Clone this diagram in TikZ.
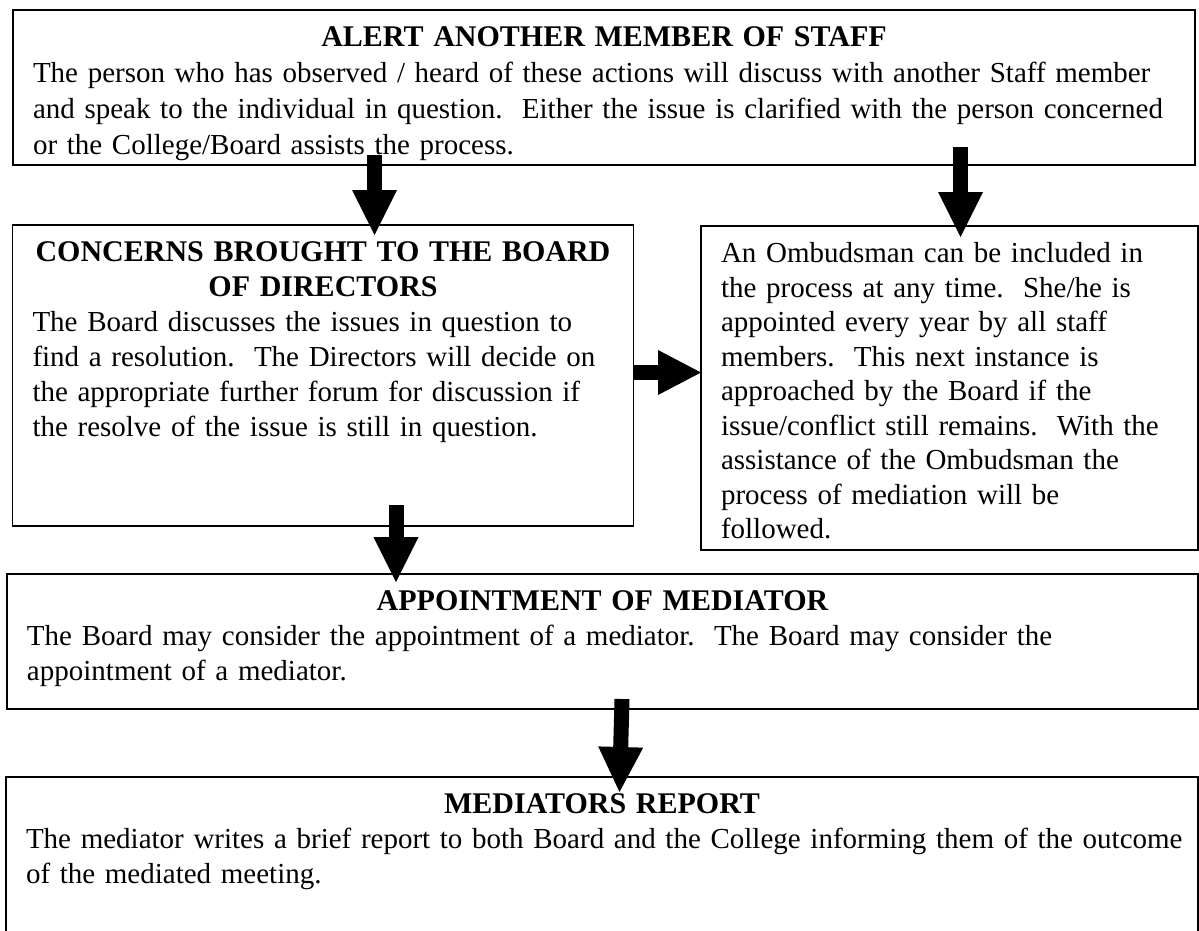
\documentclass[tikz,border=0pt]{standalone}
\usepackage{fontspec}
\setmainfont{Liberation Serif}
\usetikzlibrary{arrows.meta}
\frenchspacing
\hyphenpenalty=10000
\newcommand{\panelhead}[1]{{\centering\fontsize{30}{35}\selectfont\bfseries #1\par}}

\begin{document}
\begin{tikzpicture}[x=1pt,y=1pt,
  panel/.style={draw,line width=1.8pt,anchor=north west,outer sep=0pt,
    inner xsep=20pt,inner ysep=0pt,align=left,text height=36.5pt,
    font=\fontsize{29}{35}\selectfont},
  flow/.style={line width=15pt,-{Triangle[width=45pt,length=45pt,line width=0pt]}}]
\useasboundingbox (0,0) rectangle (1199,-930);
% boxes
\node[panel,text width=1142pt,text depth=118.5pt,font=\fontsize{29}{36}\selectfont] (alert) at (13,-10)
  {\panelhead{ALERT ANOTHER MEMBER OF STAFF}%
   The person who has observed / heard of these actions will discuss with another Staff member\\
   and speak to the individual in question.\ \ Either the issue is clarified with the person concerned\\
   or the College/Board assists the process.};
\node[panel,text width=581pt,text depth=264.5pt] (concerns) at (12.5,-225)
  {\panelhead{CONCERNS BROUGHT TO THE BOARD\\ OF DIRECTORS}%
   The Board discusses the issues in question to\\
   find a resolution.\ \ The Directors will decide on\\
   the appropriate further forum for discussion if\\
   the resolve of the issue is still in question.};
\node[panel,text width=457pt,text depth=287.5pt,font=\fontsize{29}{34.5}\selectfont] (ombuds) at (701,-226)
  {An Ombudsman can be included in\\
   the process at any time.\ \ She/he is\\
   appointed every year by all staff\\
   members.\ \ This next instance is\\
   approached by the Board if the\\
   issue/conflict still remains.\ \ With the\\
   assistance of the Ombudsman the\\
   process of mediation will be\\
   followed.};
\node[panel,text width=1151pt,text depth=98.5pt] (appoint) at (7,-574)
  {\panelhead{APPOINTMENT OF MEDIATOR}%
   The Board may consider the appointment of a mediator.\ \ The Board may consider the\\
   appointment of a mediator.};
\node[panel,text width=1152pt,text depth=163.5pt] (report) at (6,-777)
  {\panelhead{MEDIATORS REPORT}%
   \mbox{The mediator writes a brief report to both Board and the College informing them of the outcome}\\
   of the mediated meeting.};
% arrows
\draw[flow] ([xshift=361.5pt,yshift=10pt]alert.south west) -- ([xshift=362pt,yshift=-10pt]concerns.north west);
\draw[flow] ([xshift=947.5pt,yshift=18pt]alert.south west) -- ([xshift=259.5pt,yshift=-11pt]ombuds.north west);
\draw[flow,-{Triangle[width=45pt,length=43pt,line width=0pt]}] ([yshift=3pt]concerns.east) -- ([yshift=3pt]concerns.east -| ombuds.west);
\draw[flow] ([xshift=383.5pt,yshift=21pt]concerns.south west) -- ([xshift=389pt,yshift=-8pt]appoint.north west);
\draw[flow] ([xshift=615pt,yshift=10pt]appoint.south west) -- ([xshift=613.5pt,yshift=-15pt]report.north west);
\end{tikzpicture}
\end{document}
